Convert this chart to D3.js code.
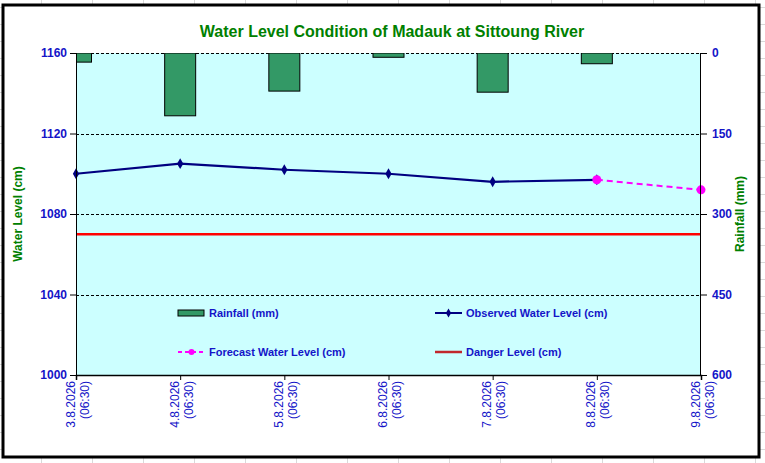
<!DOCTYPE html>
<html>
<head>
<meta charset="utf-8">
<script src="https://cdn.jsdelivr.net/npm/d3@7"></script>
<style>
  body { margin: 0; background: #fff; }
  text { font-family: Arial, "Liberation Sans", sans-serif; }
</style>
</head>
<body>
<div id="chart"></div>
<script>
// Water level + rainfall combo chart (D3 v7)

const dates = ['3.8.2026', '4.8.2026', '5.8.2026', '6.8.2026', '7.8.2026', '8.8.2026', '9.8.2026'];
const times = ['(06:30)', '(06:30)', '(06:30)', '(06:30)', '(06:30)', '(06:30)', '(06:30)'];
const rainfall = [17, 117, 71, 8, 73, 20, 0];
const observed = [1100, 1105, 1102, 1100, 1096, 1097, null];
const forecast = [null, null, null, null, null, 1097, 1092];
const danger = [1070, 1070, 1070, 1070, 1070, 1070, 1070];
const levelTicks = [1000, 1040, 1080, 1120, 1160];
const rainTicks = [0, 150, 300, 450, 600];

const W = 765, H = 463;
const margin = {top: 53, right: 64, bottom: 88, left: 76};
const width = W - margin.left - margin.right;
const height = H - margin.top - margin.bottom;

const root = d3.select('#chart').append('svg')
	.attr('width', W)
	.attr('height', H);

// spreadsheet cells behind the chart
const sheet = root.append('g').attr('stroke', '#d9d9d9').attr('stroke-width', 1);
for (let x = 41.5; x < W; x += 51) sheet.append('line').attr('x1', x).attr('x2', x).attr('y1', 0).attr('y2', H);
for (let y = 7.5; y < H; y += 17) sheet.append('line').attr('x1', 0).attr('x2', W).attr('y1', y).attr('y2', y);

root.append('rect')
	.attr('x', 3).attr('y', 5)
	.attr('width', 756).attr('height', 452)
	.attr('fill', '#fff')
	.attr('stroke', '#000')
	.attr('stroke-width', 3);

root.append('text')
	.attr('x', 392).attr('y', 37)
	.attr('text-anchor', 'middle')
	.attr('fill', '#008000')
	.style('font-size', '16px')
	.style('font-weight', 'bold')
	.text('Water Level Condition of Madauk at Sittoung River');

const svg = root.append('g')
	.attr('transform', `translate(${margin.left},${margin.top})`);

const x = d3.scalePoint().domain(dates).range([0, width]);
const yL = d3.scaleLinear().domain([1000, 1160]).range([height, 0]);
const yR = d3.scaleLinear().domain([0, 600]).range([0, height]);

svg.append('rect')
	.attr('width', width).attr('height', height)
	.attr('fill', '#ccffff');

svg.append('clipPath').attr('id', 'plotclip')
	.append('rect').attr('width', width).attr('height', height);

// dashed gridlines
svg.append('g')
	.selectAll('line')
	.data(levelTicks.filter(d => d > 1000))
	.enter()
	.append('line')
	.attr('x1', 0).attr('x2', width)
	.attr('y1', d => Math.round(yL(d)) + 0.5)
	.attr('y2', d => Math.round(yL(d)) + 0.5)
	.attr('stroke', '#000')
	.attr('stroke-width', 1)
	.attr('stroke-dasharray', '3,2');

// rainfall bars hanging from top
const barW = 31;
svg.append('g')
	.attr('clip-path', 'url(#plotclip)')
	.selectAll('rect')
	.data(rainfall.map((v, i) => ({d: dates[i], v})).filter(r => r.v > 0))
	.enter()
	.append('rect')
	.attr('x', r => x(r.d) - barW / 2)
	.attr('y', yR(0))
	.attr('width', barW)
	.attr('height', r => yR(r.v) - yR(0))
	.attr('fill', '#339966')
	.attr('stroke', '#000')
	.attr('stroke-width', 1);

// danger line
svg.append('path')
	.datum(danger.map((v, i) => [x(dates[i]), yL(v)]))
	.attr('d', d3.line())
	.attr('fill', 'none')
	.attr('stroke', '#ff0000')
	.attr('stroke-width', 2.5);

// observed
const obsPts = observed.map((v, i) => ({d: dates[i], v})).filter(p => p.v != null);
svg.append('path')
	.datum(obsPts)
	.attr('d', d3.line().x(p => x(p.d)).y(p => yL(p.v)))
	.attr('fill', 'none')
	.attr('stroke', '#000080')
	.attr('stroke-width', 2.2);

const diamond = d3.symbol().type(d3.symbolDiamond).size(34);
svg.append('g')
	.selectAll('path')
	.data(obsPts)
	.enter()
	.append('path')
	.attr('d', diamond)
	.attr('transform', p => `translate(${x(p.d)},${yL(p.v)})`)
	.attr('fill', '#000080');

// forecast
const fcPts = forecast.map((v, i) => ({d: dates[i], v})).filter(p => p.v != null);
svg.append('path')
	.datum(fcPts)
	.attr('d', d3.line().x(p => x(p.d)).y(p => yL(p.v)))
	.attr('fill', 'none')
	.attr('stroke', '#ff00ff')
	.attr('stroke-width', 2)
	.attr('stroke-dasharray', '6,4');

svg.append('g')
	.selectAll('circle')
	.data(fcPts)
	.enter()
	.append('circle')
	.attr('cx', p => x(p.d))
	.attr('cy', p => yL(p.v))
	.attr('r', 4.5)
	.attr('fill', '#ff00ff');

// axes
const blue = '#1414c8';
const leftAxis = svg.append('g')
	.call(d3.axisLeft(yL).tickValues(levelTicks).tickSize(6).tickPadding(3).tickFormat(d3.format('d')));
const rightAxis = svg.append('g')
	.attr('transform', `translate(${width},0)`)
	.call(d3.axisRight(yR).tickValues(rainTicks).tickSize(6).tickPadding(5));
[leftAxis, rightAxis].forEach(a => {
	a.select('.domain').remove();
	a.selectAll('line').attr('stroke', '#000');
	a.selectAll('text')
		.attr('fill', blue)
		.style('font-size', '12px')
		.style('font-weight', 'bold')
		.style('font-family', 'Arial, "Liberation Sans", sans-serif');
});
svg.append('line').attr('x1', 0.5).attr('x2', 0.5).attr('y1', 0).attr('y2', height).attr('stroke', '#000');
svg.append('line').attr('x1', width - 0.5).attr('x2', width - 0.5).attr('y1', 0).attr('y2', height).attr('stroke', '#000');

const bottom = svg.append('g')
	.attr('transform', `translate(0,${height})`)
	.call(d3.axisBottom(x).tickSize(5).tickFormat(''));
bottom.select('.domain').attr('stroke', '#000').attr('stroke-width', 1.5);
bottom.selectAll('line').attr('stroke', '#000');
bottom.selectAll('.tick')
	.each(function (d, i) {
		const t = d3.select(this).append('text')
			.attr('transform', 'rotate(-90)')
			.attr('text-anchor', 'end')
			.attr('fill', blue)
			.style('font-size', '12px');
		t.append('tspan').attr('x', -6).attr('y', -2).text(d);
		t.append('tspan').attr('x', -6).attr('y', 12).text(times[i]);
	});

// axis titles
root.append('text')
	.attr('transform', `translate(22,${margin.top + height / 2}) rotate(-90)`)
	.attr('text-anchor', 'middle')
	.attr('fill', '#008000')
	.style('font-size', '12px')
	.style('font-weight', 'bold')
	.text('Water Level (cm)');

root.append('text')
	.attr('transform', `translate(744,${margin.top + height / 2}) rotate(-90)`)
	.attr('text-anchor', 'middle')
	.attr('fill', '#008000')
	.style('font-size', '12px')
	.style('font-weight', 'bold')
	.text('Rainfall (mm)');

// legend
const legendItems = [
	{name: 'Rainfall (mm)', type: 'bar', lx: 102, ly: 260},
	{name: 'Observed Water Level (cm)', type: 'obs', lx: 359, ly: 260},
	{name: 'Forecast Water Level (cm)', type: 'fc', lx: 102, ly: 299},
	{name: 'Danger Level (cm)', type: 'danger', lx: 359, ly: 299}
];
const item = svg.append('g')
	.selectAll('g')
	.data(legendItems)
	.enter()
	.append('g')
	.attr('transform', d => `translate(${d.lx},${d.ly})`);

item.each(function (d) {
	const g = d3.select(this);
	if (d.type === 'bar') {
		g.append('rect').attr('x', 0).attr('y', -3).attr('width', 26).attr('height', 6)
			.attr('fill', '#339966').attr('stroke', '#000');
	} else if (d.type === 'obs') {
		g.append('line').attr('x1', 0).attr('x2', 27).attr('stroke', '#000080').attr('stroke-width', 2);
		g.append('path').attr('d', d3.symbol().type(d3.symbolDiamond).size(24)).attr('transform', 'translate(13.5,0)').attr('fill', '#000080');
	} else if (d.type === 'fc') {
		g.append('line').attr('x1', 0).attr('x2', 27).attr('stroke', '#ff00ff').attr('stroke-width', 2).attr('stroke-dasharray', '4,3');
		g.append('circle').attr('cx', 13.5).attr('r', 3).attr('fill', '#ff00ff');
	} else {
		g.append('line').attr('x1', 0).attr('x2', 27).attr('stroke', '#c0282d').attr('stroke-width', 2.5);
	}
	g.append('text')
		.attr('x', 31).attr('y', 4)
		.attr('fill', blue)
		.style('font-size', '11px')
		.style('font-weight', 'bold')
		.text(d.name);
});
</script>
</body>
</html>
